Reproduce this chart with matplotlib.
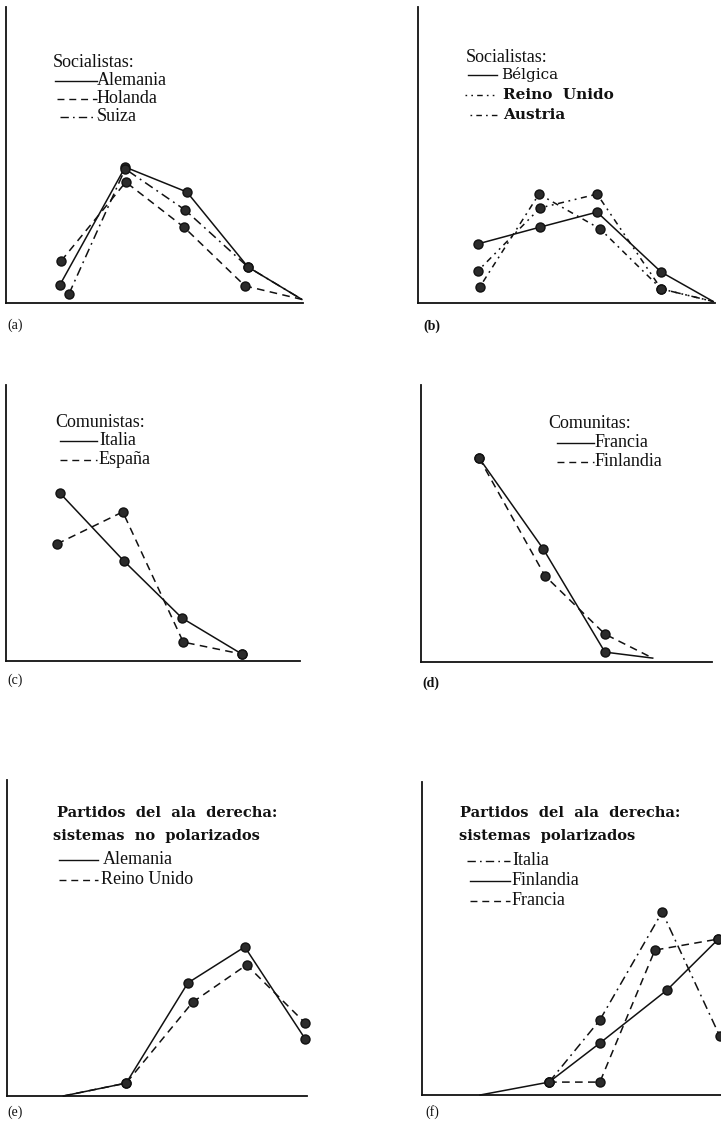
import matplotlib
matplotlib.use("Agg")
import matplotlib.pyplot as plt
from matplotlib.lines import Line2D

# ---------------------------------------------------------------------------
# Data: x = position on the left-right scale, y = share of the party's voters
# ---------------------------------------------------------------------------
# (a) Socialistas
soc_a_alemania_x = [0.89, 1.97, 2.99, 4.00, 4.89]
soc_a_alemania_y = [6.0, 45.3, 37.0, 12.0, 1.2]
soc_a_holanda_x = [0.91, 1.98, 2.94, 3.95, 4.89]
soc_a_holanda_y = [14.0, 40.3, 25.3, 5.7, 1.2]
soc_a_suiza_x = [1.04, 1.97, 2.96, 4.00, 4.89]
soc_a_suiza_y = [3.0, 44.7, 31.0, 12.0, 1.2]

# (b) Socialistas
soc_b_belgica_x = [0.99, 2.02, 2.96, 4.02, 4.88]
soc_b_belgica_y = [19.7, 25.3, 30.3, 10.3, 0.5]
soc_b_reino_x = [0.99, 2.02, 2.96, 4.02, 4.88]
soc_b_reino_y = [10.7, 31.7, 36.3, 4.7, 0.5]
soc_b_austria_x = [1.02, 2.00, 3.01, 4.02, 4.88]
soc_b_austria_y = [5.3, 36.3, 24.7, 4.7, 0.5]

# (c) Comunistas
com_c_italia_x = [0.89, 1.95, 2.91, 3.90]
com_c_italia_y = [56.0, 33.3, 14.3, 2.3]
com_c_espana_x = [0.84, 1.93, 2.93, 3.90]
com_c_espana_y = [39.0, 49.7, 6.3, 2.3]

# (d) Comunistas
com_d_francia_x = [0.96, 2.02, 3.04, 3.83]
com_d_francia_y = [68.0, 37.7, 3.3, 1.3]
com_d_finlandia_x = [0.96, 2.05, 3.04, 3.83]
com_d_finlandia_y = [68.0, 28.7, 9.3, 1.3]

# (e) Derecha, sistemas no polarizados
der_e_alemania_x = [0.93, 1.97, 2.99, 3.93, 4.93]
der_e_alemania_y = [0.0, 4.3, 37.7, 49.7, 19.0]
der_e_reino_x = [0.93, 1.97, 3.07, 3.96, 4.93]
der_e_reino_y = [0.0, 4.3, 31.3, 43.7, 24.3]

# (f) Derecha, sistemas polarizados
der_f_italia_x = [2.10, 2.94, 3.97, 4.92]
der_f_italia_y = [4.3, 25.0, 61.0, 19.7]
der_f_finlandia_x = [0.96, 2.10, 2.94, 4.05, 4.90]
der_f_finlandia_y = [0.0, 4.3, 17.3, 35.0, 52.0]
der_f_francia_x = [2.10, 2.94, 3.85, 4.90]
der_f_francia_y = [4.3, 4.3, 48.3, 52.0]

# ---------------------------------------------------------------------------
W, H = 721, 1126
XU = 60.5   # pixels per scale step
YU = 3.0    # pixels per percentage point

TIMES = "Liberation Serif"
CENTURY = "DejaVu Serif"

SOLID = "-"
DASH = (0, (5, 3.5))
DASHDOT = (0, (6, 3, 1.2, 3))
DOTDASH = (0, (1.2, 3, 1.2, 3, 4, 3))
DOTDOTDASH = (0, (1.2, 3, 4, 3))

fig = plt.figure(figsize=(W / 100, H / 100), dpi=100)
fig.patch.set_facecolor("white")


def panel(left, right, top, bottom):
    ax = fig.add_axes([left / W, 1 - bottom / H, (right - left) / W, (bottom - top) / H])
    ax.set_xlim(0, (right - left) / XU)
    ax.set_ylim(0, (bottom - top) / YU)
    for s in ("top", "right"):
        ax.spines[s].set_visible(False)
    for s in ("left", "bottom"):
        ax.spines[s].set_linewidth(1.3)
        ax.spines[s].set_color("#111111")
    ax.set_xticks([])
    ax.set_yticks([])
    ax.patch.set_alpha(0)
    return ax


def series(ax, x, y, ls, marked):
    ax.plot(x, y, color="#111111", lw=1.1, ls=ls, marker="o", ms=6.5,
            mfc="#2b2b2b", mec="#111111", mew=1.0, markevery=marked,
            clip_on=False, dash_capstyle="butt")


def fx(px):
    return px / W


def fy(py):
    return 1 - py / H


def text(x, y, s, family=TIMES, size=13, weight="normal"):
    fig.text(fx(x), fy(y), s, family=family, fontsize=size, weight=weight,
             ha="left", va="baseline", color="#111111")


def key(x0, x1, y, ls, label, tx, family=TIMES, size=13, weight="normal"):
    fig.add_artist(Line2D([fx(x0), fx(x1)], [fy(y - 4.5)] * 2,
                          transform=fig.transFigure, color="#111111",
                          lw=1.0, ls=ls, dash_capstyle="butt"))
    text(tx, y, label, family=family, size=size, weight=weight)


# (a)
ax = panel(6, 303, 7, 303)
series(ax, soc_a_alemania_x, soc_a_alemania_y, SOLID, [0, 1, 2, 3])
series(ax, soc_a_holanda_x, soc_a_holanda_y, DASH, [0, 1, 2, 3])
series(ax, soc_a_suiza_x, soc_a_suiza_y, DASHDOT, [0, 1, 2, 3])
text(53, 67, "Socialistas:")
key(55, 97, 85, SOLID, "Alemania", 97)
key(57, 97, 103, DASH, "Holanda", 97)
key(60, 97, 121, DASHDOT, "Suiza", 97)
text(7, 329, "(a)", size=10)

# (b)
ax = panel(418, 715, 7, 303)
series(ax, soc_b_belgica_x, soc_b_belgica_y, SOLID, [0, 1, 2, 3])
series(ax, soc_b_reino_x, soc_b_reino_y, DOTDASH, [0, 1, 2, 3])
series(ax, soc_b_austria_x, soc_b_austria_y, DOTDOTDASH, [0, 1, 2, 3])
text(466, 62, "Socialistas:")
key(468, 497, 79, SOLID, "Bélgica", 501, family=CENTURY, size=11)
key(465, 498, 99, DOTDASH, "Reino  Unido", 503, family=CENTURY, size=11, weight="bold")
key(470, 498, 119, DOTDOTDASH, "Austria", 503, family=CENTURY, size=11, weight="bold")
text(423, 330, "(b)", size=10, weight="bold")

# (c)
ax = panel(6, 300, 385, 661)
series(ax, com_c_italia_x, com_c_italia_y, SOLID, [0, 1, 2, 3])
series(ax, com_c_espana_x, com_c_espana_y, DASH, [0, 1, 2, 3])
text(55, 427, "Comunistas:")
key(60, 97, 445, SOLID, "Italia", 99)
key(60, 97, 464, DASH, "España", 99)
text(7, 684, "(c)", size=10)

# (d)
ax = panel(421, 712, 385, 662)
series(ax, com_d_francia_x, com_d_francia_y, SOLID, [0, 1, 2])
series(ax, com_d_finlandia_x, com_d_finlandia_y, DASH, [0, 1, 2])
text(548, 428, "Comunitas:")
key(557, 594, 447, SOLID, "Francia", 595)
key(557, 594, 466, DASH, "Finlandia", 595)
text(422, 687, "(d)", size=10, weight="bold")

# (e)
ax = panel(7, 307, 780, 1096)
series(ax, der_e_alemania_x, der_e_alemania_y, SOLID, [1, 2, 3, 4])
series(ax, der_e_reino_x, der_e_reino_y, DASH, [1, 2, 3, 4])
text(57, 817, "Partidos  del  ala  derecha:", family=CENTURY, size=10.5, weight="bold")
text(53, 840, "sistemas  no  polarizados", family=CENTURY, size=10.5, weight="bold")
key(59, 98, 864, SOLID, "Alemania", 103)
key(59, 98, 884, DASH, "Reino Unido", 101)
text(7, 1116, "(e)", size=10)

# (f)
ax = panel(422, 740, 782, 1095)
series(ax, der_f_italia_x, der_f_italia_y, DASHDOT, [0, 1, 2, 3])
series(ax, der_f_finlandia_x, der_f_finlandia_y, SOLID, [1, 2, 3, 4])
series(ax, der_f_francia_x, der_f_francia_y, DASH, [0, 1, 2, 3])
text(460, 817, "Partidos  del  ala  derecha:", family=CENTURY, size=10.5, weight="bold")
text(459, 840, "sistemas  polarizados", family=CENTURY, size=10.5, weight="bold")
key(467, 510, 865, DASHDOT, "Italia", 512)
key(470, 510, 885, SOLID, "Finlandia", 512)
key(470, 510, 905, DASH, "Francia", 512)
text(425, 1116, "(f)", size=10)

fig.savefig("out.png", dpi=100)
